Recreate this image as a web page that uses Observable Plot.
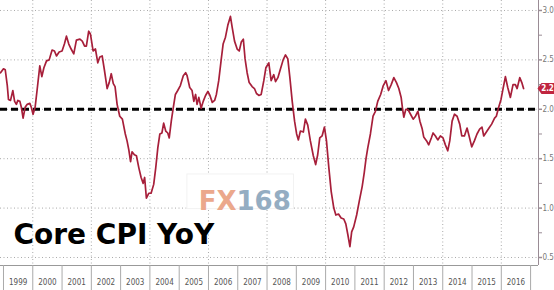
<!DOCTYPE html>
<html>
<head>
<meta charset="utf-8">
<script src="https://cdn.jsdelivr.net/npm/d3@7"></script>
<script src="https://cdn.jsdelivr.net/npm/@observablehq/plot@0.6"></script>
<style>
  html, body { margin: 0; padding: 0; background: #fff; }
  #chart svg { display: block; }
</style>
</head>
<body>
<div id="chart"></div>
<script>
// Decimal-year time stamps and Core CPI YoY values (%)
const t = [1998.90,1999.00,1999.06,1999.13,1999.17,1999.24,1999.32,1999.38,1999.44,1999.49,1999.56,1999.61,1999.67,1999.74,1999.81,1999.90,1999.95,
2000.01,2000.08,2000.15,2000.24,2000.31,2000.38,2000.47,2000.56,2000.66,2000.74,2000.81,2000.90,
2001.00,2001.08,2001.15,2001.23,2001.31,2001.40,2001.49,2001.61,2001.69,2001.77,2001.83,2001.91,2001.97,
2002.06,2002.14,2002.22,2002.29,2002.37,2002.45,2002.54,2002.61,2002.68,2002.75,2002.81,2002.88,2002.97,
2003.06,2003.16,2003.22,2003.28,2003.34,2003.39,2003.47,2003.54,2003.62,2003.70,2003.77,2003.82,2003.88,2003.96,
2004.04,2004.13,2004.20,2004.27,2004.34,2004.41,2004.47,2004.54,2004.61,2004.66,2004.73,2004.80,2004.87,2004.95,
2005.04,2005.14,2005.22,2005.27,2005.36,2005.44,2005.50,2005.56,2005.61,2005.67,2005.75,2005.82,2005.90,2005.98,
2006.05,2006.13,2006.21,2006.27,2006.35,2006.43,2006.50,2006.58,2006.66,2006.75,2006.81,2006.89,2006.98,
2007.05,2007.12,2007.19,2007.25,2007.32,2007.39,2007.49,2007.57,2007.64,2007.72,2007.80,2007.89,2007.96,
2008.06,2008.14,2008.23,2008.29,2008.37,2008.46,2008.55,2008.63,2008.71,2008.78,2008.86,2008.94,
2009.01,2009.07,2009.14,2009.24,2009.31,2009.39,2009.48,2009.58,2009.66,2009.73,2009.80,2009.88,2009.96,
2010.03,2010.11,2010.19,2010.28,2010.35,2010.44,2010.53,2010.62,2010.69,2010.76,2010.83,2010.89,2010.96,
2011.06,2011.15,2011.25,2011.32,2011.38,2011.44,2011.53,2011.62,2011.70,2011.78,2011.88,2011.97,
2012.06,2012.15,2012.24,2012.33,2012.42,2012.50,2012.58,2012.63,2012.67,2012.74,2012.81,2012.90,2012.99,
2013.07,2013.15,2013.22,2013.30,2013.35,2013.45,2013.52,2013.61,2013.67,2013.75,2013.83,2013.92,
2014.01,2014.09,2014.17,2014.24,2014.32,2014.40,2014.49,2014.58,2014.65,2014.74,2014.83,2014.90,2014.99,
2015.08,2015.17,2015.26,2015.34,2015.40,2015.49,2015.58,2015.67,2015.77,2015.83,2015.91,2015.99,
2016.06,2016.14,2016.22,2016.31,2016.40,2016.48,2016.54,2016.63,2016.70,2016.76];
const v = [2.37,2.41,2.40,2.24,2.10,2.09,2.19,2.08,2.05,2.09,2.08,2.02,1.91,2.02,2.05,2.06,2.02,
1.95,2.02,2.20,2.44,2.33,2.42,2.49,2.50,2.60,2.59,2.54,2.58,
2.59,2.66,2.74,2.66,2.61,2.56,2.70,2.71,2.69,2.64,2.64,2.79,2.76,
2.59,2.61,2.47,2.53,2.54,2.39,2.21,2.27,2.36,2.26,2.23,2.05,1.93,
1.90,1.75,1.68,1.59,1.47,1.57,1.54,1.53,1.41,1.31,1.25,1.31,1.10,1.15,
1.15,1.24,1.41,1.61,1.75,1.76,1.86,1.78,1.76,1.71,1.88,2.02,2.15,2.19,
2.24,2.34,2.37,2.34,2.22,2.19,2.08,2.15,2.05,2.12,2.01,2.08,2.14,2.18,
2.14,2.07,2.09,2.15,2.29,2.49,2.66,2.73,2.85,2.94,2.83,2.69,2.61,
2.59,2.68,2.71,2.51,2.37,2.27,2.23,2.21,2.16,2.14,2.15,2.29,2.42,
2.47,2.29,2.35,2.28,2.32,2.41,2.50,2.55,2.51,2.32,2.08,1.88,
1.75,1.69,1.78,1.77,1.90,1.84,1.68,1.53,1.44,1.54,1.71,1.73,1.82,
1.68,1.41,1.17,1.00,0.93,0.94,0.90,0.89,0.84,0.73,0.61,0.76,0.81,
0.93,1.07,1.22,1.36,1.50,1.61,1.75,1.93,1.98,2.08,2.15,2.24,
2.29,2.19,2.25,2.32,2.27,2.21,2.12,2.00,1.92,2.00,2.00,1.95,1.90,
1.93,1.98,1.88,1.80,1.72,1.68,1.64,1.71,1.76,1.73,1.69,1.73,
1.71,1.64,1.58,1.68,1.88,1.95,1.93,1.85,1.73,1.73,1.81,1.73,1.62,
1.68,1.75,1.80,1.82,1.73,1.77,1.81,1.85,1.91,1.93,2.02,2.10,
2.21,2.33,2.22,2.12,2.25,2.25,2.21,2.32,2.27,2.21];

const yearLabels = d3.range(1999, 2017);          // 1999 … 2016
const yearBounds = d3.range(1999, 2018);          // cell separators
const gridYears = [2000, 2002, 2004, 2006, 2008, 2010, 2012, 2014, 2016];
const yMajor = [0.5, 1.0, 1.5, 2.0, 2.5, 3.0];
const yMinor = [0.75, 1.25, 1.75, 2.25, 2.75];
const target = [2.0];
const xDomain = [1998.898, 2017.27];
const yDomain = [0.419, 3.101];
const titleText = "Core CPI YoY";

const data = t.map((d, i) => ({t: d, v: v[i]}));
const last = data[data.length - 1];

const lineColor = "#a71f3a";
const axisGrey = "#9a8c95";

const flag = {
  draw(ctx) {
    ctx.moveTo(-9, 0);
    ctx.lineTo(-5, -5.5);
    ctx.lineTo(10, -5.5);
    ctx.lineTo(10, 5.5);
    ctx.lineTo(-5, 5.5);
    ctx.closePath();
  }
};

const chart = Plot.plot({
  width: 554,
  height: 290,
  marginLeft: 0,
  marginRight: 16,
  marginTop: 0,
  marginBottom: 25,
  style: {fontFamily: "'Liberation Sans Narrow', 'DejaVu Sans Condensed', sans-serif", fontSize: "8px", background: "#fff", overflow: "visible"},
  x: {type: "linear", domain: xDomain, label: null},
  y: {domain: yDomain, label: null},
  marks: [
    Plot.gridY(yMajor, {stroke: "#aaa", strokeOpacity: 1, strokeDasharray: "1,2.5"}),
    Plot.gridX(gridYears, {stroke: "#aaa", strokeOpacity: 1, strokeDasharray: "1,2.5"}),
    // watermark box and text
    Plot.rect([0], {x1: () => 2005.28, x2: () => 2008.92, y1: () => 0.99, y2: () => 1.34, fill: "#fff", stroke: "#f2f2f2"}),
    Plot.text(["FX"], {text: d => d, frameAnchor: "top-left", dx: 236, dy: 191, textAnchor: "end", fontSize: 26, fontWeight: "bold", fill: "#eba88c", fontFamily: "'DejaVu Sans', sans-serif", letterSpacing: 1}),
    Plot.text(["168"], {text: d => d, frameAnchor: "top-left", dx: 236, dy: 191, textAnchor: "start", fontSize: 26, fontWeight: "bold", fill: "#94adc2", fontFamily: "'DejaVu Sans', sans-serif", letterSpacing: 0.5}),
    // bottom axis
    Plot.ruleY([yDomain[0]], {stroke: "#999"}),
    Plot.axisX(yearBounds, {tickSize: 25, tickFormat: () => "", stroke: "#aaa", label: null}),
    Plot.axisX(yearLabels.map(y => y + 0.5), {tickSize: 0, tickPadding: 14, tickFormat: d => String(Math.floor(d)), fill: "#555", fontSize: 8, label: null}),
    // right axis
    Plot.ruleX([xDomain[1]], {stroke: axisGrey}),
    Plot.axisY(yMajor, {anchor: "right", tickSize: 3, tickPadding: 1, tickFormat: d3.format(".1f"), stroke: axisGrey, strokeWidth: 1.5, fill: "#777", fontSize: 8, label: null}),
    Plot.axisY(yMinor, {anchor: "right", tickSize: 3, tickFormat: () => "", stroke: axisGrey, label: null}),
    // 2% line
    Plot.ruleY(target, {stroke: "#000", strokeWidth: 3, strokeDasharray: "7,4"}),
    // series
    Plot.line(data, {x: "t", y: "v", stroke: lineColor, strokeWidth: 1.7, curve: "linear"}),
    // last value flag
    Plot.dot([last], {x: () => xDomain[1], y: "v", symbol: flag, fill: "#c0253f", stroke: null, dx: 8}),
    Plot.text([last], {x: () => xDomain[1], y: "v", text: d => d3.format(".1f")(d.v), dx: 9, fill: "#fff", fontSize: 8, fontWeight: "bold"}),
    // title
    Plot.text([titleText], {text: d => d, frameAnchor: "bottom-left", dx: 13, dy: -22, textAnchor: "start", fontSize: 28, fontWeight: "bold", fill: "#000", fontFamily: "'DejaVu Sans', sans-serif"})
  ]
});
document.getElementById("chart").appendChild(chart);
</script>
</body>
</html>
